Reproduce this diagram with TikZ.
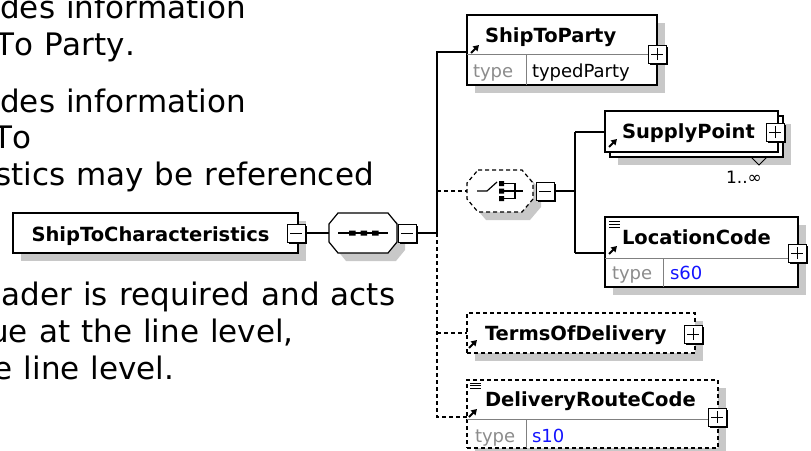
\documentclass[tikz,border=0pt]{standalone}
\usepackage{fontspec}
\setmainfont{DejaVu Sans}
\newfontfamily\descfont[WordSpace=1.12,Kerning=Off]{DejaVu Sans}
\usetikzlibrary{calc,shadows,arrows.meta}
\definecolor{shadowc}{RGB}{200,200,200}
\definecolor{sepc}{RGB}{128,128,128}
\definecolor{typegray}{RGB}{140,140,140}
\definecolor{typeblue}{RGB}{20,20,255}
\newcommand\octpath[3]{($(#1.north west)+(#2,0)$) -- ($(#1.north east)+(-#2,0)$) -- ($(#1.north east)+(0,#3)$) -- ($(#1.south east)+(0,-#3)$) -- ($(#1.south east)+(-#2,0)$) -- ($(#1.south west)+(#2,0)$) -- ($(#1.south west)+(0,-#3)$) -- ($(#1.north west)+(0,#3)$) -- cycle}
\begin{document}
\begin{tikzpicture}[x=1pt,y=-1pt,
  every node/.style={inner sep=0pt, outer sep=0pt},
  gshadow/.style={general shadow={draw=none, fill=shadowc, shadow xshift=8pt, shadow yshift=-8pt}},
  elbox/.style={rectangle, draw=black, line width=1.2pt, fill=white, anchor=north west},
  optbox/.style={elbox, dash pattern=on 4pt off 3pt},
  conn/.style={draw=black, line width=1.2pt},
  optconn/.style={conn, dash pattern=on 4pt off 3pt},
  sepline/.style={draw=sepc, line width=1pt},
  namefont/.style={font=\fontsize{19.5}{22}\selectfont\bfseries, anchor=base west},
  typefont/.style={font=\fontsize{18}{20}\selectfont, text=typegray, anchor=base west},
  valfont/.style={font=\fontsize{18}{20}\selectfont, anchor=base west},
  desc/.style={font=\descfont\fontsize{31}{37}\selectfont, anchor=base},
  pmbox/.style={rectangle, draw=black, line width=1pt, fill=white, minimum width=18pt, minimum height=18pt,
    general shadow={draw=none, fill=black, shadow xshift=2pt, shadow yshift=-2pt}},
  pmminus/.style={pmbox, path picture={\draw[line width=1pt] ([xshift=-6pt]path picture bounding box.center) -- ([xshift=6pt]path picture bounding box.center);}},
  pmplus/.style={pmbox, path picture={\draw[line width=1pt] ([xshift=-6pt]path picture bounding box.center) -- ([xshift=6pt]path picture bounding box.center) ([yshift=-6pt]path picture bounding box.center) -- ([yshift=6pt]path picture bounding box.center);}},
  refarrow/.style={line width=2pt, -{Triangle[length=5.5pt,width=6.5pt]}},
  icon/.style={line width=1.2pt},
]
\useasboundingbox (0,0) rectangle (811,450);

% description text (cut at the left edge)
\node[desc] (d1) at (123,18) {des information};
\node[desc] (d2) at (65,55) {To Party.};
\node[desc] (d3) at (123,112) {des information};
\node[desc] (d4) at (12.5,148) {To};
\node[desc] (d5) at (184.5,185) {stics may be referenced};
\node[desc] (d6) at (198.5,305) {ader is required and acts};
\node[desc] (d7) at (141.5,342) {ue at the line level,};
\node[desc] (d8) at (84,379) {e line level.};

% root element
\node[elbox, gshadow, minimum width=285pt, minimum height=40pt] (stc) at (13,213) {};
\node[font=\fontsize{19.5}{22}\selectfont\bfseries, anchor=base] (stct) at (150.5,241) {ShipToCharacteristics};

% sequence compositor
\node[minimum width=68pt, minimum height=40pt, anchor=north west] (seq) at (329,213) {};
\draw[conn, fill=white, gshadow] \octpath{seq}{9}{11};
\draw[icon] (338,233) -- (388,233);
\fill (349,230.5) rectangle (355.5,235.5) (360.5,230.5) rectangle (367,235.5) (372,230.5) rectangle (378.5,235.5);

% choice compositor
\node[minimum width=66pt, minimum height=42pt, anchor=north west] (ch) at (467,170) {};
\draw[optconn, fill=white, gshadow] \octpath{ch}{11}{13};
\draw[icon] (477,191) -- (487,191) -- (497,182);
\fill (499,181) rectangle (504,186) (499,188.5) rectangle (504,193.5) (499,196) rectangle (504,201);
\draw[icon] (504,183.5) -- (515,183.5) -- (515,198.5) -- (504,198.5) (504,191) -- (523,191);

% ShipToParty
\node[elbox, gshadow, minimum width=190pt, minimum height=70pt] (stp) at (467,15) {};
\draw[sepline] ($(stp.north west)+(0,39)$) -- ($(stp.north east)+(0,39)$);
\draw[sepline] ($(stp.north west)+(59,39)$) -- ($(stp.south west)+(59,0)$);
\node[namefont] (stpn) at (485,42) {ShipToParty};
\node[typefont] (stpk) at (473,77) {type};
\node[valfont] (stpv) at (532,77) {typedParty};
\draw[refarrow] (471,53) -- (479,45);

% SupplyPoint (repeated)
\node[elbox, gshadow, minimum width=173pt, minimum height=41pt] (spb) at (610,116) {};
\node[elbox, minimum width=173pt, minimum height=41pt] (sp) at (605,111) {};
\node[namefont] (spn) at (622,138) {SupplyPoint};
\draw[refarrow] (609,147) -- (617,139);
\draw[line width=1pt] (751,157) -- (759,165) -- (767,157);
\node[font=\fontsize{17}{19}\selectfont, anchor=base] (spm) at (744,183) {1..∞};

% LocationCode
\node[elbox, gshadow, minimum width=193pt, minimum height=70pt] (lc) at (605,217) {};
\draw[sepline] ($(lc.north west)+(0,41)$) -- ($(lc.north east)+(0,41)$);
\draw[sepline] ($(lc.north west)+(58,41)$) -- ($(lc.south west)+(58,0)$);
\node[namefont] (lcn) at (622,244) {LocationCode};
\node[typefont] (lck) at (612,279) {type};
\node[valfont, text=typeblue] (lcv) at (670,279) {s60};
\draw[line width=1pt] (609,221.5) -- (620,221.5) (609,224.3) -- (620,224.3) (609,227.1) -- (620,227.1);
\draw[refarrow] (609,254) -- (617,246);

% TermsOfDelivery (optional)
\node[optbox, gshadow, minimum width=228pt, minimum height=40pt] (tod) at (467,313) {};
\node[namefont] (todn) at (485,340) {TermsOfDelivery};
\draw[refarrow] (469,348) -- (477,340);

% DeliveryRouteCode (optional)
\node[optbox, gshadow, minimum width=251pt, minimum height=68pt] (drc) at (467,380) {};
\draw[sepline] ($(drc.north west)+(0,39)$) -- ($(drc.north east)+(0,39)$);
\draw[sepline] ($(drc.north west)+(59,39)$) -- ($(drc.south west)+(59,0)$);
\node[namefont] (drcn) at (485,406) {DeliveryRouteCode};
\node[typefont] (drck) at (475,442) {type};
\node[valfont, text=typeblue] (drcv) at (532,442) {s10};
\draw[line width=1pt] (470,383) -- (481,383) (470,385.8) -- (481,385.8) (470,388.6) -- (481,388.6);
\draw[refarrow] (469,417) -- (477,409);

% expand / collapse buttons
\node[pmminus] (stcm) at (296,233) {};
\node[pmminus] (seqm) at (407,233) {};
\node[pmminus] (chm) at (545,191) {};
\node[pmplus] (stpp) at (657,54) {};
\node[pmplus] (spp) at (775,132) {};
\node[pmplus] (lcp) at (797,253) {};
\node[pmplus] (todp) at (693,334) {};
\node[pmplus] (drcp) at (717,417) {};

% connectors
\coordinate (bus) at (437,233);
\coordinate (b1) at (437,52);
\coordinate (b2) at (437,191);
\coordinate (b3) at (437,333);
\coordinate (b4) at (437,417);
\coordinate (c0) at (575,191);
\coordinate (c1) at (575,132);
\coordinate (c2) at (575,253);
\draw[conn] (stcm.east) -- (seq.west);
\draw[conn] (seqm.east) -- (bus);
\draw[conn] (bus) -- (b1) -- (b1 -| stp.west);
\draw[optconn] (bus) -- (b4) -- (b4 -| drc.west);
\draw[optconn] (b2) -- (b2 -| ch.west);
\draw[optconn] (b3) -- (b3 -| tod.west);
\draw[conn] (chm.east) -- (c0);
\draw[conn] (c1) -- (c2);
\draw[conn] (c1) -- (c1 -| sp.west);
\draw[conn] (c2) -- (c2 -| lc.west);
\end{tikzpicture}
\end{document}
